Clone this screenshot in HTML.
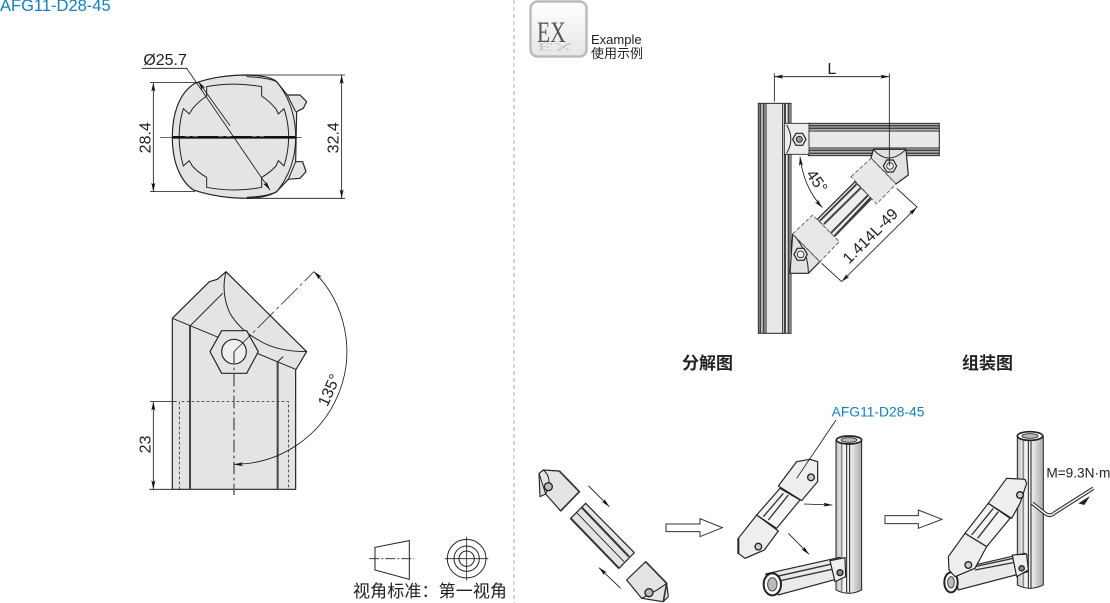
<!DOCTYPE html>
<html><head><meta charset="utf-8"><style>
html,body{margin:0;padding:0;background:#fff;width:1110px;height:603px;overflow:hidden}
svg{display:block}
text{font-family:"Liberation Sans","Noto Sans CJK SC",sans-serif;fill:#222}
.p{fill:#e4e4e4;stroke:#222;stroke-width:3.5;stroke-linejoin:round}
.l{fill:none;stroke:#222;stroke-width:3}
.d{fill:none;stroke:#111;stroke-width:2.4}
</style></head><body>
<svg width="1110" height="603" viewBox="0 0 1110 603" xmlns="http://www.w3.org/2000/svg">
<defs>
<marker id="a" markerUnits="userSpaceOnUse" markerWidth="28" markerHeight="14" refX="27" refY="6" orient="auto-start-reverse"><path d="M0,0L27,6L0,12L6,6Z" fill="#111"/></marker>
<linearGradient id="ex" x1="0" y1="0" x2="0" y2="1"><stop offset="0" stop-color="#fff"/><stop offset="1" stop-color="#e6e6e6"/></linearGradient>
<linearGradient id="tube" x1="0" y1="0" x2="1" y2="0"><stop offset="0" stop-color="#bbb"/><stop offset=".25" stop-color="#f6f6f6"/><stop offset=".6" stop-color="#e8e8e8"/><stop offset="1" stop-color="#aaa"/></linearGradient>
</defs>
<text x="0" y="11" font-size="16.5" style="fill:#1080c4">AFG11-D28-45</text>
<line x1="514" y1="0" x2="514" y2="603" stroke="#aaa" stroke-dasharray="4 3"/>

<!-- front view -->
<g transform="translate(130,40) scale(.3333)">
<path class="p" d="M195,130C240,112 300,105 350,105C395,106 425,112 440,125L472,165L510,165L530,185L520,205L500,215L497,365L518,365L528,395L510,415L475,418L440,455C420,468 385,475 350,475C290,475 235,465 190,450C160,430 127,380 127,292C127,200 160,150 195,130Z"/>
<path class="l" d="M350,110Q410,112 440,125Q497,195 497,292Q497,385 440,455Q410,470 350,472M472,165L497,215M475,418L497,365"/>
<path class="p" d="M230,140Q312,125 395,140L395,168Q420,185 438,207L445,222L462,206Q490,290 462,378L445,362L438,378Q420,398 395,412L395,442Q312,458 230,442L230,412Q205,398 187,378L178,362L160,378Q135,290 160,206L178,222L187,207Q205,185 230,168Z" style="stroke-width:3"/>
<line x1="127" y1="292" x2="497" y2="292" stroke="#111" stroke-width="8"/>
<line x1="165" y1="291" x2="440" y2="291" stroke="#fff" stroke-width="2.5" stroke-dasharray="15 8 15 62"/>
<line x1="90" y1="292" x2="515" y2="292" stroke="#111" stroke-width="2"/>
<path class="d" d="M60,128H200M60,455H195M350,105H645M350,475H645"/>
<line class="d" x1="70" y1="128" x2="70" y2="455" marker-start="url(#a)" marker-end="url(#a)"/>
<line class="d" x1="635" y1="105" x2="635" y2="475" marker-start="url(#a)" marker-end="url(#a)"/>
<path class="d" d="M35,85H170L420,450" marker-end="url(#a)"/>
<line class="d" x1="300" y1="257" x2="205" y2="125" marker-end="url(#a)"/>
<text x="40" y="75" font-size="48">Ø25.7</text>
<text transform="translate(62,340) rotate(-90)" font-size="48">28.4</text>
<text transform="translate(626,340) rotate(-90)" font-size="48">32.4</text>
</g>

<!-- side view -->
<g transform="translate(130,260) scale(.3333)">
<path class="p" d="M127,175L238,65L262,58L288,35L530,275L518,295L497,330V688H127Z"/>
<path class="l" d="M127,175L497,328M288,35Q272,100 300,160Q330,210 385,240Q440,275 530,275M180,198L278,100M443,305L460,290"/>
<path d="M180,198V688M443,305V688" stroke="#444" stroke-width="6" fill="none"/>
<path class="p" d="M240,275L275,212H350L385,275L350,340H275Z"/>
<circle cx="312" cy="275" r="37" fill="#eee" stroke="#222" stroke-width="3.5"/>
<path d="M148,688V425H476V688" fill="none" stroke="#222" stroke-width="2.4" stroke-dasharray="8 7"/>
<line x1="312" y1="275" x2="312" y2="705" stroke="#666" stroke-width="4.5" stroke-dasharray="38 10 8 10"/>
<line x1="312" y1="275" x2="552" y2="35" stroke="#111" stroke-width="2" stroke-dasharray="70 10 10 10"/>
<path d="M60,425H140M58,688H127" class="d"/>
<line class="d" x1="70" y1="425" x2="70" y2="688" marker-start="url(#a)" marker-end="url(#a)"/>
<path class="d" d="M552,35A339,339 0 0 1 312,613" marker-start="url(#a)" marker-end="url(#a)"/>
<text transform="translate(62,580) rotate(-90)" font-size="48">23</text>
<text transform="translate(592,442) rotate(-66)" font-size="48">135°</text>
</g>

<!-- view standard -->
<g transform="translate(340,530) scale(.3333)">
<path class="l" d="M105,52L208,32V148L105,120Z"/>
<path d="M88,86H222" stroke="#222" stroke-width="2.4" stroke-dasharray="30 6 6 6" fill="none"/>
<circle cx="380" cy="86" r="58" class="l"/><circle cx="380" cy="86" r="38" class="l"/><circle cx="380" cy="86" r="23" class="l"/>
<path d="M315,86H445M380,20V152" stroke="#222" stroke-width="2.4" fill="none"/>
</g>
<text x="353" y="597" font-size="17" textLength="154">视角标准：第一视角</text>

<!-- EX -->
<rect x="530.5" y="1.5" width="56" height="55" rx="7" fill="url(#ex)" stroke="#bbb" stroke-width="2.5"/>
<text transform="translate(537,42) scale(.72,1)" font-size="30" style="font-family:'Liberation Serif',serif;fill:#555">EX</text>
<text transform="translate(537,43) scale(.9,-.4)" font-size="30" opacity=".3" style="font-family:'Liberation Serif',serif;fill:#777">EX</text>
<text x="591" y="44" font-size="13">Example</text>
<text x="591" y="58" font-size="13">使用示例</text>

<!-- assembly drawing -->
<g transform="translate(740,60) scale(.3333)">
<rect x="55" y="130" width="98" height="690" fill="#e8e8e8" stroke="#222" stroke-width="3"/>
<path d="M61,130V820M71,130V820M135,130V820M146,130V820" stroke="#444" stroke-width="6" fill="none"/>
<path d="M78,130V820M128,130V820" stroke="#222" stroke-width="3" fill="none"/>
<rect x="205" y="190" width="393" height="97" fill="#e8e8e8" stroke="#222" stroke-width="3"/>
<path d="M205,197H598M205,205H598M205,271H598M205,280H598" stroke="#444" stroke-width="6" fill="none"/>
<path d="M205,213H598M205,264H598" stroke="#222" stroke-width="3" fill="none"/>
<rect x="133" y="190" width="74" height="93" fill="#ececec" stroke="#222" stroke-width="2.5"/>
<path class="l" d="M140,195Q165,238 140,280"/>
<path class="p" d="M158,238L168,220H188L198,238L188,256H168Z"/><circle cx="178" cy="238" r="9" fill="#999" stroke="#222" stroke-width="3"/>
<path class="p" d="M232,478L345,365L392,412L280,530Z" style="fill:#eee"/>
<path d="M240,482L352,370M252,492L364,382M272,520L385,405M282,530L395,415" stroke="#444" stroke-width="6" fill="none"/>
<path class="p" d="M393,295L400,268H498L505,345L468,372Z" style="fill:#e2e2e2"/>
<path class="l" d="M400,268Q445,320 498,268"/>
<path class="p" d="M333,350L393,295L468,372L410,432Z" style="fill:#e8e8e8;stroke:#555;stroke-width:2.5;stroke-dasharray:12 6"/>
<path class="p" d="M430,318L440,300H460L470,318L460,336H440Z"/><circle cx="450" cy="318" r="10" fill="#f2f2f2" stroke="#222" stroke-width="2.5"/>
<path class="p" d="M158,522L150,640H205L240,605Z" style="fill:#e2e2e2"/>
<path class="l" d="M158,522Q205,570 205,640"/>
<path class="p" d="M158,522L218,465L298,545L240,605Z" style="fill:#e8e8e8;stroke:#555;stroke-width:2.5;stroke-dasharray:12 6"/>
<path class="p" d="M162,583L172,565H192L202,583L192,601H172Z"/><circle cx="182" cy="583" r="10" fill="#f2f2f2" stroke="#222" stroke-width="2.5"/>
<path class="d" d="M103,40V125M448,40V318M245,610L305,665M470,385L532,442"/>
<line class="d" x1="103" y1="50" x2="448" y2="50" marker-start="url(#a)" marker-end="url(#a)"/>
<line class="d" x1="305" y1="665" x2="530" y2="442" marker-start="url(#a)" marker-end="url(#a)"/>
<path class="d" d="M180,290Q190,380 247,443" marker-start="url(#a)" marker-end="url(#a)"/>
<text x="262" y="42" font-size="48">L</text>
<text transform="translate(197,343) rotate(55)" font-size="48">45°</text>
<text transform="translate(327,614) rotate(-45)" font-size="47">1.414L-49</text>
</g>
<text x="682" y="369" font-size="17" font-weight="bold">分解图</text>
<text x="962" y="369" font-size="17" font-weight="bold">组装图</text>

<!-- exploded parts -->
<g transform="translate(525,420) scale(.3333)">
<path class="p" d="M42,160L55,150L103,153L163,215L107,273L62,222L45,230Z"/>
<path class="l" d="M55,150Q85,175 62,222M42,160L62,222"/>
<path d="M103,153L163,215L107,273" fill="none" stroke="#333" stroke-width="5"/>
<circle cx="70" cy="200" r="12" fill="#bbb" stroke="#222" stroke-width="4"/>
<path class="p" d="M182,250L328,398L282,445L137,295Z"/>
<path d="M170,262L312,410M137,295L282,445" stroke="#333" stroke-width="6" fill="none"/><path d="M155,278L297,425" stroke="#222" stroke-width="2.5"/>
<path class="p" d="M362,425L425,490L430,530L415,545L350,535L305,480Z"/>
<path d="M362,425L425,490L415,545" fill="none" stroke="#333" stroke-width="5"/>
<path class="l" d="M350,535Q400,510 425,490"/>
<circle cx="372" cy="518" r="12" fill="#bbb" stroke="#222" stroke-width="4"/>
<line class="d" x1="190" y1="197" x2="253" y2="260" marker-end="url(#a)"/>
<line class="d" x1="287" y1="505" x2="222" y2="443" marker-end="url(#a)"/>
<path d="M423,312H525V296L592,323L525,350V335H423Z" fill="#fff" stroke="#333" stroke-width="3"/>
</g>

<g transform="translate(725,400) scale(.3333)">
<text x="320" y="50" font-size="41.5" style="fill:#1080c4">AFG11-D28-45</text>
<path d="M333,120V570Q372,590 410,570V120Z" fill="url(#tube)" stroke="#222" stroke-width="3"/>
<path d="M350,130V575" stroke="#888" stroke-width="5" fill="none"/>
<path d="M365,132V578M374,132V578" stroke="#222" stroke-width="3" fill="none"/>
<ellipse cx="372" cy="120" rx="38" ry="12" fill="#fff" stroke="#222" stroke-width="5"/>
<ellipse cx="372" cy="120" rx="24" ry="7" fill="#bbb" stroke="#444" stroke-width="3"/>
<path class="p" d="M122,522L345,472L362,530L160,585Z" style="fill:#eaeaea"/>
<path d="M130,535L330,490M140,548L335,505" stroke="#333" stroke-width="4" fill="none"/>
<ellipse cx="142" cy="553" rx="26" ry="33" fill="#fff" stroke="#222" stroke-width="6"/>
<ellipse cx="142" cy="553" rx="14" ry="20" fill="#bbb" stroke="#444" stroke-width="3"/>
<path class="p" d="M315,482L360,473L362,530L330,545Z" style="fill:#eee"/>
<circle cx="345" cy="518" r="9" fill="#888" stroke="#222" stroke-width="4"/>
<path class="p" d="M165,265L225,300L155,385L95,345Z" style="fill:#f4f4f4"/>
<path d="M175,280L115,350M190,285L130,360" stroke="#333" stroke-width="4" fill="none"/>
<path class="p" d="M215,185L255,178L278,185L278,245L230,302L160,258Z" style="fill:#eee"/>
<circle cx="258" cy="232" r="10" fill="#ccc" stroke="#222" stroke-width="4"/>
<path class="p" d="M95,345L160,393L118,450L60,475L40,460L40,415Z" style="fill:#eee"/>
<path d="M40,415V462" stroke="#222" stroke-width="6"/>
<circle cx="100" cy="440" r="10" fill="#ccc" stroke="#222" stroke-width="4"/>
<path class="d" d="M333,60L215,235"/>
<line class="d" x1="237" y1="312" x2="322" y2="315" marker-end="url(#a)"/>
<line class="d" x1="190" y1="400" x2="252" y2="463" marker-end="url(#a)"/>
<path d="M480,347H580V330L651,358L580,385V371H480Z" fill="#fff" stroke="#333" stroke-width="3"/>
</g>

<g transform="translate(925,420) scale(.3333)">
<path d="M277,48V495Q315,515 355,495V48Z" fill="url(#tube)" stroke="#222" stroke-width="3"/>
<path d="M295,60V500" stroke="#888" stroke-width="5" fill="none"/>
<path d="M310,60V505M318,60V505" stroke="#222" stroke-width="3" fill="none"/>
<ellipse cx="315" cy="48" rx="38" ry="13" fill="#fff" stroke="#222" stroke-width="5"/>
<ellipse cx="315" cy="48" rx="24" ry="7" fill="#bbb" stroke="#444" stroke-width="3"/>
<path class="p" d="M85,450L300,400L310,455L100,510Z" style="fill:#eaeaea"/>
<path d="M150,440L265,415M150,450L265,428" stroke="#333" stroke-width="4" fill="none"/>
<ellipse cx="78" cy="487" rx="20" ry="30" fill="#fff" stroke="#222" stroke-width="6"/>
<ellipse cx="78" cy="487" rx="10" ry="17" fill="#bbb" stroke="#444" stroke-width="3"/>
<path class="p" d="M262,405L305,402L310,450L275,470Z" style="fill:#eee"/>
<circle cx="290" cy="445" r="8" fill="#888" stroke="#222" stroke-width="4"/>
<path class="p" d="M190,250L255,295L185,380L120,340Z" style="fill:#f4f4f4"/>
<path d="M205,265L140,345M220,275L158,355" stroke="#333" stroke-width="4" fill="none"/>
<path class="p" d="M245,175L300,178L305,190L285,250L260,295L190,250Z" style="fill:#eee"/>
<circle cx="285" cy="225" r="10" fill="#ccc" stroke="#222" stroke-width="4"/>
<path class="p" d="M120,340L185,380L150,445L90,470L72,450L70,410Z" style="fill:#eee"/>
<circle cx="130" cy="435" r="10" fill="#ccc" stroke="#222" stroke-width="4"/>
<path d="M322,250L360,280Q375,292 390,278L505,205" fill="none" stroke="#222" stroke-width="11"/>
<path d="M322,250L360,280Q375,292 390,278L505,205" fill="none" stroke="#eee" stroke-width="5"/>
<path d="M460,250L495,228L478,255Z" fill="#222"/>
<text x="364" y="173" font-size="41">M=9.3N·m</text>
</g>
</svg>
</body></html>
